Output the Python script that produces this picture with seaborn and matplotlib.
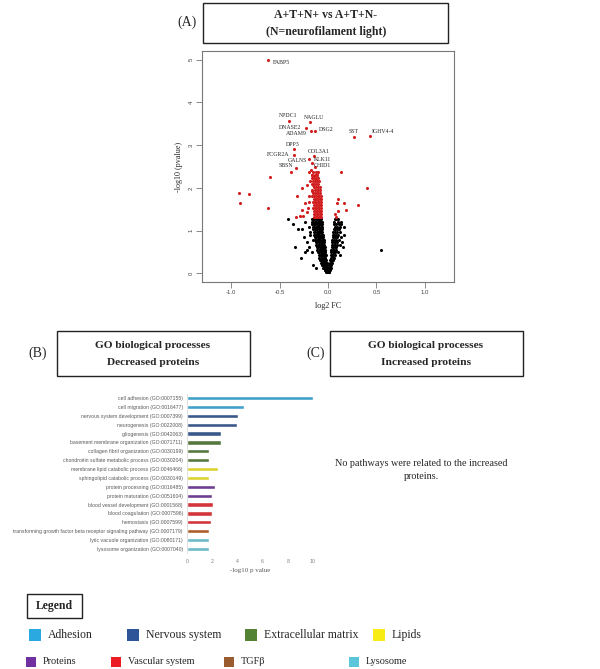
import matplotlib
matplotlib.use("Agg")
import matplotlib.pyplot as plt
from matplotlib.patches import Rectangle
import seaborn as sns
import pandas as pd

# ---- volcano plot values (log2 FC, -log10 p) ----
# non significant proteins (black)
black_levels = [1.27, 1.21, 1.15, 1.09, 1.03, 0.97, 0.91, 0.85, 0.79, 0.73, 0.67,
                0.61, 0.55, 0.49, 0.43, 0.37, 0.31, 0.25, 0.19, 0.13, 0.08, 0.03]
black_fc_rows = [
    [-0.415, -0.17, -0.155, -0.14, -0.125, -0.11, -0.10, -0.09, -0.08, -0.07, 0.07, 0.085, 0.10],
    [-0.24, -0.165, -0.15, -0.135, -0.12, -0.108, -0.097, -0.086, -0.075, -0.064, 0.065, 0.10, 0.13],
    [-0.36, -0.16, -0.145, -0.13, -0.118, -0.106, -0.094, -0.082, -0.07, -0.06, 0.06, 0.08, 0.11, 0.13],
    [-0.20, -0.155, -0.14, -0.125, -0.113, -0.101, -0.089, -0.077, -0.066, 0.07, 0.09, 0.12, 0.16],
    [-0.31, -0.27, -0.15, -0.135, -0.122, -0.11, -0.098, -0.086, -0.075, -0.063, 0.06, 0.075, 0.095, 0.115],
    [-0.19, -0.145, -0.13, -0.117, -0.105, -0.093, -0.081, -0.07, -0.058, 0.055, 0.07, 0.09, 0.12],
    [-0.19, -0.14, -0.125, -0.112, -0.10, -0.088, -0.076, -0.065, -0.054, 0.05, 0.065, 0.085, 0.105, 0.17],
    [-0.25, -0.135, -0.12, -0.107, -0.095, -0.083, -0.071, -0.06, -0.05, 0.05, 0.07, 0.09, 0.13],
    [-0.15, -0.13, -0.115, -0.102, -0.09, -0.078, -0.066, -0.055, -0.046, 0.045, 0.06, 0.08, 0.11],
    [-0.22, -0.125, -0.11, -0.097, -0.085, -0.073, -0.062, -0.051, -0.042, 0.045, 0.06, 0.075, 0.095, 0.14],
    [-0.12, -0.105, -0.092, -0.08, -0.068, -0.057, -0.047, -0.039, 0.04, 0.055, 0.07, 0.09, 0.12],
    [-0.34, -0.20, -0.115, -0.10, -0.087, -0.075, -0.064, -0.053, -0.043, -0.035, 0.04, 0.055, 0.07, 0.085, 0.15],
    [-0.22, -0.11, -0.095, -0.082, -0.07, -0.059, -0.048, -0.039, -0.031, 0.035, 0.05, 0.065, 0.08, 0.546],
    [-0.24, -0.16, -0.10, -0.088, -0.076, -0.065, -0.054, -0.044, -0.035, -0.028, 0.035, 0.05, 0.06, 0.075, 0.10],
    [-0.095, -0.082, -0.07, -0.059, -0.049, -0.04, -0.031, -0.024, 0.03, 0.045, 0.055, 0.07, 0.12],
    [-0.28, -0.088, -0.075, -0.064, -0.053, -0.043, -0.034, -0.026, 0.03, 0.04, 0.05, 0.065],
    [-0.08, -0.068, -0.057, -0.047, -0.037, -0.028, -0.02, 0.025, 0.035, 0.045, 0.055],
    [-0.072, -0.06, -0.05, -0.04, -0.03, -0.022, -0.015, 0.02, 0.03, 0.04],
    [-0.15, -0.062, -0.051, -0.041, -0.032, -0.024, -0.016, -0.009, 0.015, 0.025, 0.035],
    [-0.12, -0.05, -0.04, -0.031, -0.022, -0.014, -0.006, 0.005, 0.013, 0.022, 0.03],
    [-0.035, -0.026, -0.017, -0.009, 0.0, 0.009, 0.018],
    [-0.02, -0.01, 0.0, 0.01, 0.015],
]

# significant proteins (red), dense band read row by row
red_levels = [2.38, 2.31, 2.24, 2.17, 2.10, 2.03, 1.96, 1.89, 1.82, 1.75,
              1.68, 1.61, 1.54, 1.47, 1.40, 1.33]
red_fc_rows = [
    [-0.15, -0.12, -0.10],
    [-0.16, -0.13, -0.11],
    [-0.17, -0.14, -0.12, -0.10],
    [-0.15, -0.13, -0.11, -0.09],
    [-0.16, -0.14, -0.12, -0.10],
    [-0.14, -0.12, -0.10, -0.08],
    [-0.17, -0.13, -0.115, -0.10, -0.085],
    [-0.15, -0.13, -0.115, -0.10, -0.08],
    [-0.16, -0.14, -0.12, -0.105, -0.09, -0.075],
    [-0.145, -0.13, -0.115, -0.10, -0.085, -0.07],
    [-0.15, -0.135, -0.12, -0.105, -0.09, -0.075],
    [-0.14, -0.125, -0.11, -0.095, -0.08, -0.068],
    [-0.15, -0.135, -0.12, -0.105, -0.09, -0.075],
    [-0.14, -0.125, -0.11, -0.095, -0.082, -0.07],
    [-0.145, -0.13, -0.115, -0.10, -0.087, -0.074],
    [-0.14, -0.125, -0.11, -0.097, -0.085, -0.073],
]
# scattered significant proteins
red_fc_extra = [-0.598, 0.131, -0.914, -0.811, -0.907, -0.615, 0.405, 0.306, 0.107, 0.097,
                0.165, 0.186, 0.107, 0.076, 0.082, -0.323, -0.271, -0.22, -0.186, -0.196,
                -0.237, -0.268, -0.33, -0.285, -0.254, -0.22, -0.203, -0.193, -0.199, -0.168,
                -0.158, -0.124, -0.144, -0.117, -0.168, -0.175, -0.378]
red_p_extra = [2.25, 2.37, 1.89, 1.85, 1.64, 1.53, 2.00, 1.59, 1.74, 1.64,
               1.64, 1.49, 1.45, 1.385, 1.33, 1.82, 2.00, 2.07, 2.17, 2.36,
               1.64, 1.48, 1.33, 1.35, 1.35, 1.44, 1.54, 1.68, 1.80, 1.92,
               2.07, 2.19, 2.27, 2.29, 2.31, 2.42, 2.36]

# labelled proteins
gene_names = ["FABP5", "NPDC1", "NAGLU", "DNASE2", "ADAM9", "DSG2", "SST", "IGHV4-4",
              "DPP3", "FCGR2A", "COL3A1", "GALNS", "KLK11", "SBSN", "CHID1"]
gene_fc = [-0.615, -0.402, -0.186, -0.230, -0.172, -0.131, 0.268, 0.436,
           -0.354, -0.354, -0.144, -0.193, -0.165, -0.333, -0.134]
gene_p = [5.00, 3.57, 3.55, 3.39, 3.34, 3.34, 3.20, 3.21,
          2.90, 2.78, 2.75, 2.68, 2.59, 2.46, 2.50]

# ---- GO biological processes, decreased proteins ----
go_terms = [
    "cell adhesion (GO:0007155)",
    "cell migration (GO:0016477)",
    "nervous system development (GO:0007399)",
    "neurogenesis (GO:0022008)",
    "gliogenesis (GO:0042063)",
    "basement membrane organization (GO:0071711)",
    "collagen fibril organization (GO:0030199)",
    "chondroitin sulfate metabolic process (GO:0030204)",
    "membrane lipid catabolic process (GO:0046466)",
    "sphingolipid catabolic process (GO:0030149)",
    "protein processing (GO:0016485)",
    "protein maturation (GO:0051604)",
    "blood vessel development (GO:0001568)",
    "blood coagulation (GO:0007596)",
    "hemostasis (GO:0007599)",
    "transforming growth factor beta receptor signaling pathway (GO:0007179)",
    "lytic vacuole organization (GO:0080171)",
    "lysosome organization (GO:0007040)",
]
go_values = [10.0, 4.55, 4.07, 3.94, 2.70, 2.70, 1.77, 1.74, 2.43, 1.77,
             2.25, 1.96, 2.09, 1.96, 1.88, 1.77, 1.74, 1.72]
go_groups = ["Adhesion", "Adhesion", "Nervous system", "Nervous system", "Nervous system",
             "Extracellular matrix", "Extracellular matrix", "Extracellular matrix",
             "Lipids", "Lipids", "Proteins", "Proteins",
             "Vascular system", "Vascular system", "Vascular system",
             "TGFβ", "Lysosome", "Lysosome"]

legend_names = ["Adhesion", "Nervous system", "Extracellular matrix", "Lipids",
                "Proteins", "Vascular system", "TGFβ", "Lysosome"]
bar_colors = {"Adhesion": "#2aa9e0", "Nervous system": "#2e5597",
              "Extracellular matrix": "#548235", "Lipids": "#f8ec15",
              "Proteins": "#7030a0", "Vascular system": "#ec1c24",
              "TGFβ": "#c55a11", "Lysosome": "#5bc5d9"}
legend_colors = dict(bar_colors, **{"TGFβ": "#9a5c2e"})

sns.set_style("white")
plt.rcParams['font.family'] = ['Liberation Serif', 'DejaVu Serif']

W, H = 600, 669
fig = plt.figure(figsize=(6, 6.69), dpi=100)


def fx(px):
    return px / W


def fy(py):
    return 1 - py / H


def box(x0, y0, x1, y1, lw=1.0):
    fig.add_artist(Rectangle((fx(x0), fy(y1)), (x1 - x0) / W, (y1 - y0) / H,
                             transform=fig.transFigure, fill=False,
                             edgecolor="#222222", linewidth=lw))


def ftext(px, py, s, **kw):
    fig.text(fx(px), fy(py), s, ha=kw.pop("ha", "center"), va=kw.pop("va", "center"), **kw)


# ---------------- (A) volcano ----------------
fc_black = [x for row in black_fc_rows for x in row]
p_black = [y for y, row in zip(black_levels, black_fc_rows) for _ in row]
fc_red = [x for row in red_fc_rows for x in row] + red_fc_extra + gene_fc
p_red = [y for y, row in zip(red_levels, red_fc_rows) for _ in row] + red_p_extra + gene_p

ax1 = fig.add_axes([fx(202), fy(282), 252 / W, 231 / H])
vol_black = pd.DataFrame({"fc": fc_black, "p": p_black})
vol_red = pd.DataFrame({"fc": fc_red, "p": p_red})
sns.scatterplot(data=vol_black, x="fc", y="p", color="black", s=5, linewidth=0, ax=ax1)
sns.scatterplot(data=vol_red, x="fc", y="p", color="#d11f1f", s=5, linewidth=0, ax=ax1)
ax1.set_xlim(-1.3, 1.3)
ax1.set_ylim(-0.2, 5.2)
ax1.set_xticks([-1.0, -0.5, 0.0, 0.5, 1.0])
ax1.set_xticklabels(["-1.0", "-0.5", "0.0", "0.5", "1.0"], family="Liberation Sans")
ax1.set_yticks(range(6))
ax1.set_yticklabels([str(i) for i in range(6)], rotation=90, va="center", family="Liberation Sans")
ax1.tick_params(length=4, width=0.6, color="#777777", labelsize=4.3, labelcolor="#444444",
                pad=2, left=True, bottom=True)
for sp in ax1.spines.values():
    sp.set_color("#777777")
    sp.set_linewidth(0.8)
ax1.set_xlabel("log2 FC", fontsize=5.9, labelpad=5)
ax1.set_ylabel("-log10 (pvalue)", fontsize=5.9, labelpad=4)

# label offsets in points (dx, dy) and alignment
label_style = {
    "FABP5": (3.5, -2, "left"), "NPDC1": (-0.7, 3.6, "center"), "NAGLU": (3, 3.2, "center"),
    "DNASE2": (-11.3, 1, "center"), "ADAM9": (-10.8, -2.4, "center"), "DSG2": (8, 0.5, "center"),
    "SST": (0, 3.6, "center"), "IGHV4-4": (9.2, 3.1, "center"), "DPP3": (-1, 3.3, "center"),
    "FCGR2A": (-11.1, 0, "center"), "COL3A1": (3.6, 3.1, "center"), "GALNS": (-8.6, -1.4, "center"),
    "KLK11": (7.7, 2.4, "center"), "SBSN": (-7, 2.2, "center"), "CHID1": (5.3, 1, "center"),
}
for name, x, y in zip(gene_names, gene_fc, gene_p):
    dx, dy, ha = label_style[name]
    ax1.annotate(name, (x, y), xytext=(dx, dy), textcoords="offset points",
                 fontsize=4.2, ha=ha, va="center")

box(203, 3, 448, 43)
ftext(326, 15, "A+T+N+ vs A+T+N-", fontsize=8.5, fontweight="bold")
ftext(326, 32, "(N=neurofilament light)", fontsize=8.5, fontweight="bold")
ftext(187, 22, "(A)", fontsize=10)

# ---------------- (B) GO bar chart ----------------
box(57, 331, 250, 376)
ftext(153, 346, "GO biological processes", fontsize=8.2, fontweight="bold")
ftext(153, 362, "Decreased proteins", fontsize=8.2, fontweight="bold")
ftext(38, 353, "(B)", fontsize=10)

ax2 = fig.add_axes([fx(187), fy(553.4), 126 / W, 159.8 / H])
go_df = pd.DataFrame({"term": go_terms, "value": go_values, "group": go_groups})
sns.barplot(data=go_df, x="value", y="term", hue="group", palette=bar_colors,
            dodge=False, legend=False, width=0.47, orient="h", ax=ax2)
ax2.set_xlim(0, 10)
ax2.set_xticks([0, 2, 4, 6, 8, 10])
ax2.tick_params(axis="x", length=0, labelsize=3.8, labelcolor="#7f7f7f", pad=4)
ax2.tick_params(axis="y", length=0, labelsize=3.7, labelcolor="#595959", pad=3)
for lab in ax2.get_yticklabels() + ax2.get_xticklabels():
    lab.set_family("Liberation Sans")
ax2.set_ylabel("")
ax2.set_xlabel("-log10 p value", fontsize=5, color="#595959", labelpad=3)
for k in ["top", "right", "bottom"]:
    ax2.spines[k].set_visible(False)
ax2.spines["left"].set_color("#d9d9d9")
ax2.spines["left"].set_linewidth(0.6)

# ---------------- (C) ----------------
box(330, 331, 523, 376)
ftext(426, 346, "GO biological processes", fontsize=8.2, fontweight="bold")
ftext(426, 362, "Increased proteins", fontsize=8.2, fontweight="bold")
ftext(316, 353, "(C)", fontsize=10)
ftext(421, 470, "No pathways were related to the increased\nproteins.", fontsize=7.3,
      linespacing=1.6)

# ---------------- legend ----------------
box(27, 594, 82, 618)
ftext(54.5, 606, "Legend", fontsize=8.5, fontweight="bold")
legend_pos = [(29, 635, 12, 8.5), (127, 635, 12, 8.5), (245, 635, 12, 8.5), (373, 635, 12, 8.5),
              (26, 662, 10, 7.4), (111, 662, 10, 7.4), (224, 662, 10, 7.4), (349, 662, 10, 7.4)]
for name, (x0, yc, sz, fs) in zip(legend_names, legend_pos):
    fig.add_artist(Rectangle((fx(x0), fy(yc + sz / 2)), sz / W, sz / H,
                             transform=fig.transFigure, facecolor=legend_colors[name],
                             edgecolor="none"))
    ftext(x0 + sz + 7, yc, name, fontsize=fs, ha="left")

fig.savefig("out.png", dpi=100)
